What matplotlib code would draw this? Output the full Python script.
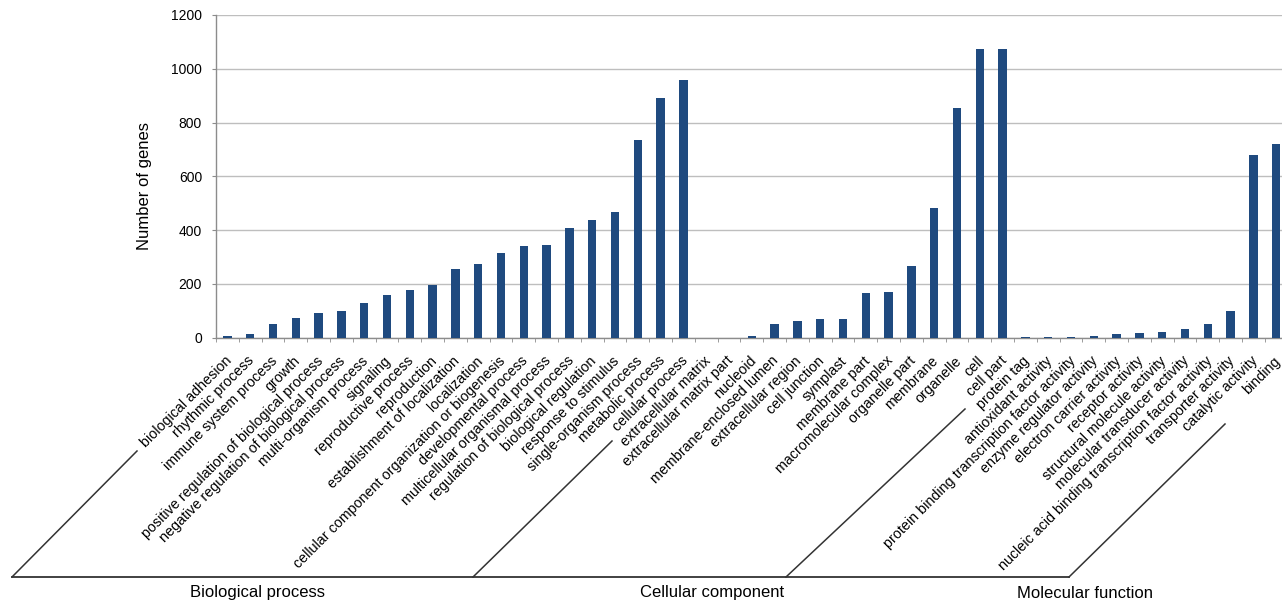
import numpy as np
import matplotlib.pyplot as plt
from matplotlib.lines import Line2D
from matplotlib.transforms import ScaledTranslation

plt.rcParams['font.family'] = ['Liberation Sans', 'DejaVu Sans']

# GO level-2 terms and gene counts, one list per ontology
bp_terms = ['biological adhesion', 'rhythmic process', 'immune system process', 'growth',
            'positive regulation of biological process', 'negative regulation of biological process',
            'multi-organism process', 'signaling', 'reproductive process', 'reproduction',
            'establishment of localization', 'localization',
            'cellular component organization or biogenesis', 'developmental process',
            'multicellular organismal process', 'regulation of biological process',
            'biological regulation', 'response to stimulus', 'single-organism process',
            'metabolic process', 'cellular process']
bp_counts = [8, 15, 52, 75, 93, 99, 128, 160, 179, 195, 256, 275, 316, 341, 346, 408,
             437, 467, 737, 892, 959]

cc_terms = ['extracellular matrix', 'extracellular matrix part', 'nucleoid',
            'membrane-enclosed lumen', 'extracellular region', 'cell junction', 'symplast',
            'membrane part', 'macromolecular complex', 'organelle part', 'membrane',
            'organelle', 'cell', 'cell part']
cc_counts = [0, 0, 6, 52, 61, 71, 71, 167, 169, 266, 481, 855, 1075, 1075]

mf_terms = ['protein tag', 'antioxidant activity', 'protein binding transcription factor activity',
            'enzyme regulator activity', 'electron carrier activity', 'receptor activity',
            'structural molecule activity', 'molecular transducer activity',
            'nucleic acid binding transcription factor activity', 'transporter activity',
            'catalytic activity', 'binding']
mf_counts = [1, 1, 1, 7, 12, 17, 23, 31, 50, 101, 679, 722]

group_names = ['Biological process', 'Cellular component', 'Molecular function']

terms = bp_terms + cc_terms + mf_terms
counts = bp_counts + cc_counts + mf_counts

W, H = 1282, 605
BAR = '#1F4A7F'
GRID = '#BEBEBE'
AXIS = '#8C8C8C'


def fx(x):
    return x / W


def fy(y):
    return 1 - y / H


fig = plt.figure(figsize=(W / 100, H / 100), dpi=100)
ax = fig.add_axes([fx(216), fy(337.7), 1071.6 / W, 322.7 / H])

x = np.arange(len(terms))
ax.bar(x, counts, width=0.36, color=BAR, zorder=3)

ax.set_xlim(-0.5, len(terms) - 0.5)
ax.set_ylim(0, 1200)
ax.set_yticks(np.arange(0, 1201, 200))
ax.yaxis.grid(True, color=GRID, linewidth=1.0, zorder=0)
ax.set_axisbelow(True)

for side in ['top', 'right']:
    ax.spines[side].set_visible(False)
for side in ['left', 'bottom']:
    ax.spines[side].set_color(AXIS)
    ax.spines[side].set_linewidth(1.0)

ax.tick_params(axis='y', length=3, color=AXIS, labelsize=10, pad=7)
ax.set_xticks(x)
ax.set_xticklabels([])
ax.tick_params(axis='x', which='major', length=0)
ax.set_xticks(np.arange(-0.5, len(terms)), minor=True)
ax.tick_params(axis='x', which='minor', length=3, color=AXIS)

# rotated category labels, right end hanging just under each bar
shift = ScaledTranslation(2 / 100, -21 / 100, fig.dpi_scale_trans)
for i, term in enumerate(terms):
    ax.text(i, 0, term, transform=ax.get_xaxis_transform() + shift,
            rotation=45, rotation_mode='anchor', ha='right', va='center',
            fontsize=10.3)

fig.text(fx(145), fy(186), 'Number of genes', rotation=90,
         ha='center', va='center', fontsize=12)

# group brackets under the category labels
base_y = 577
bracket_lines = [((12, 137), (577, 451)),
                 ((473, 612), (577, 441)),
                 ((786, 965), (577, 409)),
                 ((1069, 1225), (577, 424))]
fig.add_artist(Line2D([fx(12), fx(1069)], [fy(base_y), fy(base_y)],
                      color='#333333', linewidth=1.3))
for xs, ys in bracket_lines:
    fig.add_artist(Line2D([fx(v) for v in xs], [fy(v) for v in ys],
                          color='#333333', linewidth=1.1))

for name, cx in zip(group_names, [257, 712, 1085]):
    fig.text(fx(cx), fy(593), name, ha='center', va='center', fontsize=12)

fig.savefig('out.png', dpi=100)
